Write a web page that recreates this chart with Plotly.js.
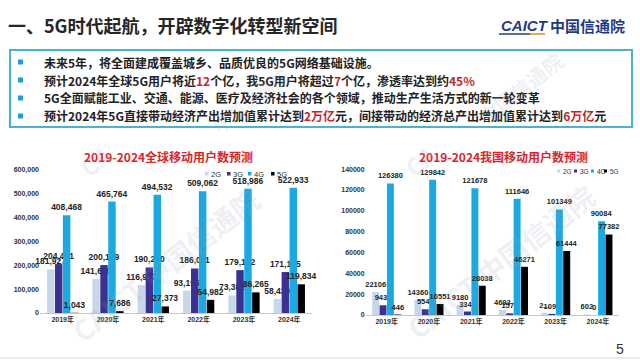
<!DOCTYPE html>
<html><head><meta charset="utf-8">
<script src="https://cdn.plot.ly/plotly-3.0.1.min.js"></script>
<style>html,body{margin:0;padding:0;background:#fff;} #chart{width:640px;height:360px;}</style>
</head><body><div id="chart"></div>
<script>
// ---------- data ----------
const years = ['2019年','2020年','2021年','2022年','2023年','2024年'];
const seriesNames = ['2G','3G','4G','5G'];
const seriesColors = ['#C8D6EA','#3A3190','#1CA9E1','#000000'];

const globalG2 = [181927,141610,116947,93195,73382,58420];
const globalG3 = [204491,200169,190230,186011,179152,171135];
const globalG4 = [408468,465764,494532,509062,518986,522933];
const globalG5 = [1043,7686,27373,54982,86265,119834];

const chinaG2 = [22106,14360,9180,4693,2150,602];
const chinaG2Labels = ['22106','14360','9180','4693','2...','602'];
const chinaG3 = [9439,5546,3342,1576,1097,0];
const chinaG4 = [126380,129842,121678,111646,101349,90084];
const chinaG5 = [446,10551,28038,46271,61444,77382];

const pageTitle = '一、5G时代起航，开辟数字化转型新空间';
const leftTitle = '2019-2024全球移动用户数预测';
const rightTitle = '2019-2024我国移动用户数预测';
const RED = '#C0282D';
const bullets = [
  '未来5年，将全面建成覆盖城乡、品质优良的5G网络基础设施。',
  '预计2024年全球5G用户将近<span style="color:'+RED+'">12</span>个亿，我5G用户将超过<span style="color:'+RED+'">7</span>个亿，渗透率达到约<span style="color:'+RED+'">45%</span>',
  '5G全面赋能工业、交通、能源、医疗及经济社会的各个领域，推动生产生活方式的新一轮变革',
  '预计2024年5G直接带动经济产出增加值累计达到<span style="color:'+RED+'">2万亿</span>元，间接带动的经济总产出增加值累计达到<span style="color:'+RED+'">6万亿</span>元'
];

// ---------- helpers ----------
const W = 640, H = 360;
const px = x => x / W;
const py = y => 1 - y / H;
const CJK = 'Noto Sans CJK SC, Liberation Sans, sans-serif';
const NUM = 'Liberation Sans, Noto Sans CJK SC, sans-serif';

const globalSeries = [globalG2, globalG3, globalG4, globalG5];
const chinaSeries = [chinaG2, chinaG3, chinaG4, chinaG5];

const traces = [];
globalSeries.forEach((vals, i) => {
  traces.push({
    type: 'bar', x: years, y: vals, name: seriesNames[i],
    marker: {color: seriesColors[i]},
    text: vals.map(v => v.toLocaleString('en-US')),
    textposition: 'outside', constraintext: 'none', cliponaxis: false,
    textfont: {family: NUM, size: 8.5, color: '#222', weight: 'bold'},
    xaxis: 'x', yaxis: 'y', showlegend: false, hoverinfo: 'skip'
  });
});
chinaSeries.forEach((vals, i) => {
  traces.push({
    type: 'bar', x: years, y: vals, name: seriesNames[i],
    marker: {color: seriesColors[i]},
    text: i === 0 ? chinaG2Labels : vals.map(v => String(v)),
    textposition: 'outside', constraintext: 'none', cliponaxis: false,
    textfont: {family: NUM, size: 7.5, color: '#222', weight: 'bold'},
    xaxis: 'x2', yaxis: 'y2', showlegend: false, hoverinfo: 'skip'
  });
});

const annotations = [];
const shapes = [];

// page title
annotations.push({xref:'paper', yref:'paper', x:px(6), y:py(25), xanchor:'left', yanchor:'middle',
  text: pageTitle, showarrow:false, font:{family:CJK, size:18, color:'#262626', weight:'bold'}});
// logo
annotations.push({xref:'paper', yref:'paper', x:px(499), y:py(26), xanchor:'left', yanchor:'middle',
  text:'<i>CAICT</i>', showarrow:false, font:{family:'Liberation Sans, sans-serif', size:15, color:'#1F3A87', weight:'bold'}});
annotations.push({xref:'paper', yref:'paper', x:px(548), y:py(26), xanchor:'left', yanchor:'middle',
  text:'中国信通院', showarrow:false, font:{family:CJK, size:15, color:'#1F3A87', weight:'bold'}});
shapes.push({type:'line', xref:'paper', yref:'paper', x0:px(499), x1:px(530), y0:py(34), y1:py(34), line:{color:'#1F3A87', width:1.5}});
shapes.push({type:'line', xref:'paper', yref:'paper', x0:px(530), x1:px(545), y0:py(34), y1:py(34), line:{color:'#E8891E', width:1.5}});

// text box
shapes.push({type:'rect', xref:'paper', yref:'paper', x0:px(10), x1:px(632), y0:py(50), y1:py(127),
  line:{color:'#4DB3CC', width:2}, fillcolor:'rgba(0,0,0,0)'});
const lineY = [62, 80, 98, 116];
bullets.forEach((t, i) => {
  shapes.push({type:'rect', xref:'paper', yref:'paper', x0:px(18), x1:px(23), y0:py(lineY[i]-2.5), y1:py(lineY[i]+2.5),
    line:{width:0}, fillcolor:'#1C9FD8'});
  annotations.push({xref:'paper', yref:'paper', x:px(42), y:py(lineY[i]), xanchor:'left', yanchor:'middle',
    text:t, showarrow:false, font:{family:CJK, size:12, color:'#222', weight:'bold'}});
});

// chart titles
annotations.push({xref:'paper', yref:'paper', x:px(168), y:py(156), xanchor:'center', yanchor:'middle',
  text:leftTitle, showarrow:false, font:{family:CJK, size:12, color:'#D9262B', weight:'bold'}});
annotations.push({xref:'paper', yref:'paper', x:px(503), y:py(156), xanchor:'center', yanchor:'middle',
  text:rightTitle, showarrow:false, font:{family:CJK, size:12, color:'#D9262B', weight:'bold'}});

// custom compact legends
const legL = [205, 227, 248, 271], legR = [557, 574, 591, 604];
seriesNames.forEach((n, i) => {
  shapes.push({type:'rect', xref:'paper', yref:'paper', x0:px(legL[i]), x1:px(legL[i]+3.5), y0:py(172), y1:py(175.5), line:{width:0}, fillcolor:seriesColors[i]});
  annotations.push({xref:'paper', yref:'paper', x:px(legL[i]+4), y:py(174), xanchor:'left', yanchor:'middle',
    text:n, showarrow:false, font:{family:NUM, size:7.5, color:'#333'}});
  shapes.push({type:'rect', xref:'paper', yref:'paper', x0:px(legR[i]), x1:px(legR[i]+3), y0:py(169.5), y1:py(172.5), line:{width:0}, fillcolor:seriesColors[i]});
  annotations.push({xref:'paper', yref:'paper', x:px(legR[i]+3.5), y:py(171), xanchor:'left', yanchor:'middle',
    text:n, showarrow:false, font:{family:NUM, size:6.5, color:'#333'}});
});

// watermarks
const wm = (x, y, s, t) => annotations.push({xref:'paper', yref:'paper', x:px(x), y:py(y), xanchor:'center', yanchor:'middle',
  text:t, showarrow:false, textangle:-38, font:{family:CJK, size:s, color:'rgba(150,160,185,0.18)', weight:'bold'}});
wm(165, 265, 28, 'CAICT 中国信通院');
wm(500, 262, 28, 'CAICT 中国信通院');
wm(95, 160, 24, 'CA');
wm(420, 160, 24, 'CA');
wm(250, 100, 18, '中国信通院');
wm(520, 88, 20, '中国信通院');

// page number & bottom line
annotations.push({xref:'paper', yref:'paper', x:px(620), y:py(349), xanchor:'center', yanchor:'middle',
  text:'5', showarrow:false, font:{family:NUM, size:14, color:'#333'}});
shapes.push({type:'line', xref:'paper', yref:'paper', x0:0, x1:1, y0:py(358), y1:py(358), line:{color:'#D6D6D6', width:1}});

const axX = {showgrid:false, zeroline:false, showline:true, linecolor:'#C8C8C8', linewidth:1, ticks:'',
  tickfont:{family:NUM, size:7, color:'#333', weight:'bold'}, fixedrange:true};
const axY = {showgrid:false, zeroline:false, showline:false, ticks:'',
  tickfont:{family:NUM, size:7, color:'#333', weight:'bold'}, fixedrange:true};

const layout = {
  width: W, height: H, margin:{l:0, r:0, t:0, b:0},
  paper_bgcolor:'#ffffff', plot_bgcolor:'rgba(0,0,0,0)',
  barmode:'group', bargap:0.3, bargroupgap:0.06,
  showlegend:false,
  xaxis: Object.assign({}, axX, {domain:[px(40), px(312)], anchor:'y'}),
  yaxis: Object.assign({}, axY, {domain:[py(313), py(169.4)], range:[0,600000], dtick:100000, tickformat:',d', anchor:'x'}),
  xaxis2: Object.assign({}, axX, {domain:[px(365.6), px(619)], anchor:'y2'}),
  yaxis2: Object.assign({}, axY, {domain:[py(315), py(169.2)], range:[0,140000], dtick:20000, tickformat:'d', anchor:'x2'}),
  annotations, shapes
};

Plotly.newPlot('chart', traces, layout, {staticPlot:true, displayModeBar:false});
</script>
</body></html>
